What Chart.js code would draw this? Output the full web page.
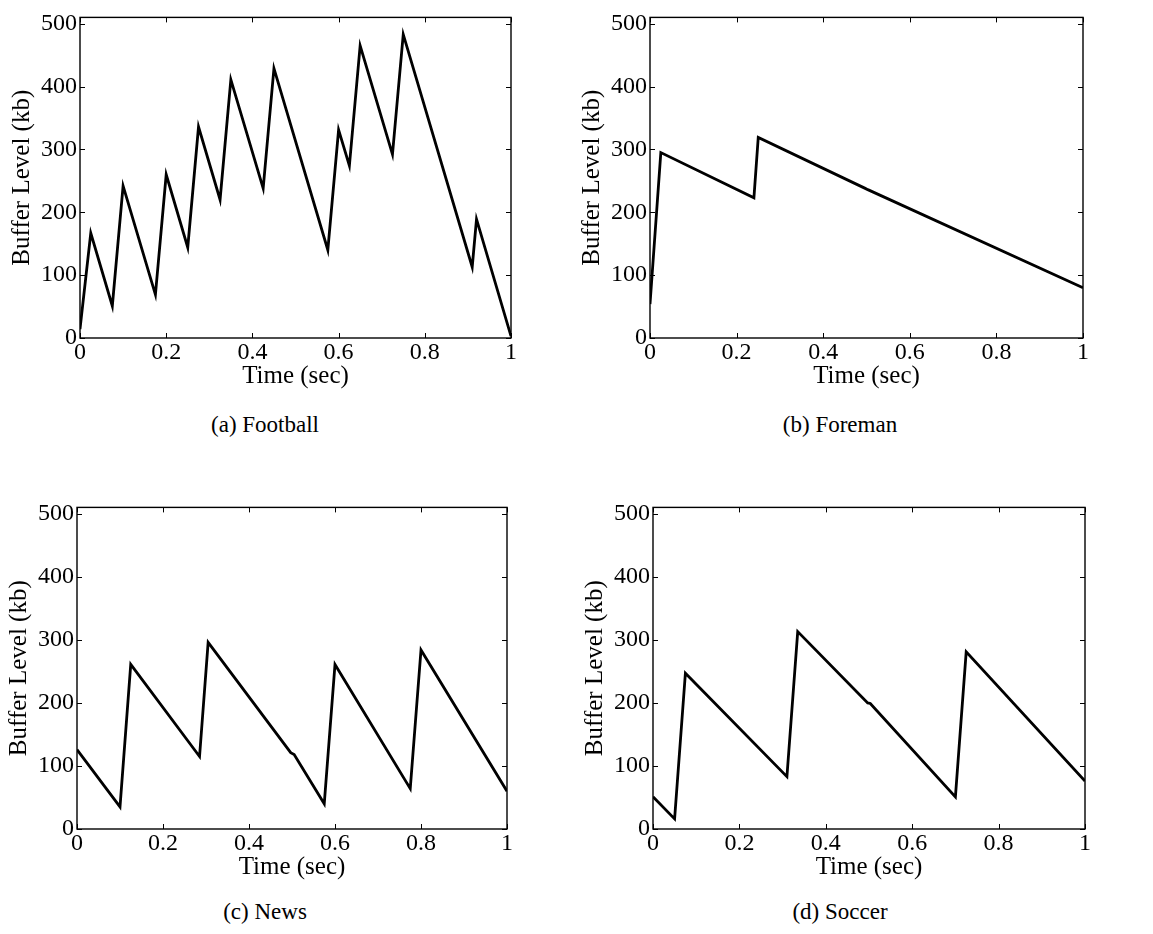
<!DOCTYPE html>
<html>
<head>
<meta charset="utf-8">
<title>Buffer Level</title>
<script src="https://cdn.jsdelivr.net/npm/chart.js@4/dist/chart.umd.min.js"></script>
<style>
    body { margin: 0; background: #fff; }
    #wrap { position: relative; width: 1153px; height: 934px; overflow: hidden; }
    canvas { position: absolute; }
    .caption {
        position: absolute;
        width: 300px;
        text-align: center;
        font: 23px "Liberation Serif", "Times New Roman", serif;
        line-height: 26px;
        color: #000;
    }
</style>
</head>
<body>
<div id="wrap">
    <canvas id="football"></canvas>
    <canvas id="foreman"></canvas>
    <canvas id="news"></canvas>
    <canvas id="soccer"></canvas>
    <div class="caption" style="left:115px; top:412px;">(a) Football</div>
    <div class="caption" style="left:690px; top:412px;">(b) Foreman</div>
    <div class="caption" style="left:115px; top:899px;">(c) News</div>
    <div class="caption" style="left:690px; top:899px;">(d) Soccer</div>
</div>

<script>
// Axis ticks (shared by all four panels)
const xTicks = [0, 0.2, 0.4, 0.6, 0.8, 1];
const xTickLabels = ['0', '0.2', '0.4', '0.6', '0.8', '1'];
const yTicks = [0, 100, 200, 300, 400, 500];
const yTickLabels = ['0', '100', '200', '300', '400', '500'];

// (a) Football: time (sec) / buffer level (kb)
const footballTime = [0, 0.025, 0.075, 0.1, 0.175, 0.2, 0.25, 0.275, 0.325, 0.35, 0.425, 0.45,
    0.575, 0.6, 0.625, 0.65, 0.725, 0.75, 0.91, 0.92, 1];
const footballLevel = [14, 167, 51, 242, 69, 260, 144, 336, 220, 411, 238, 429,
    140, 331, 274, 465, 292, 483, 113, 189, 3];

// (b) Foreman
const foremanTime = [0, 0.025, 0.24, 0.25, 0.497, 0.503, 1];
const foremanLevel = [54, 295, 223, 319, 238, 236, 80];

// (c) News
const newsTime = [0, 0.1, 0.125, 0.285, 0.305, 0.497, 0.505, 0.575, 0.6, 0.775, 0.8, 1];
const newsLevel = [126, 35, 261, 115, 296, 121, 118, 40, 261, 64, 284, 60];

// (d) Soccer
const soccerTime = [0, 0.05, 0.075, 0.31, 0.335, 0.497, 0.503, 0.7, 0.725, 1];
const soccerLevel = [51, 16, 247, 83, 313, 200, 199, 51, 281, 76];

const yMax = 510;

// Plot-area rectangles (page pixels) for each panel
const panels = [
    { id: 'football', time: footballTime, level: footballLevel, left: 80, top: 13, right: 511, bottom: 338 },
    { id: 'foreman', time: foremanTime, level: foremanLevel, left: 650, top: 13, right: 1083, bottom: 338 },
    { id: 'news', time: newsTime, level: newsLevel, left: 77, top: 503, right: 507, bottom: 829 },
    { id: 'soccer', time: soccerTime, level: soccerLevel, left: 653, top: 503, right: 1085, bottom: 829 }
];

const AXIS_W = 80;   // room left of plot for y labels + title
const AXIS_H = 62;   // room below plot for x labels + title
const PAD_TOP = 13;
const PAD_RIGHT = 20;

const serif = "'Liberation Serif', 'Times New Roman', serif";
const tickFont = { family: serif, size: 24 };
const titleFont = { family: serif, size: 25 };

// Draws the box round the plot and MATLAB-style inward ticks on all four sides
const frameTicks = {
    id: 'frameTicks',
    afterDraw(chart) {
        const { ctx, chartArea: a, scales: { x, y } } = chart;
        const len = 5;
        ctx.save();
        ctx.strokeStyle = '#000';
        ctx.lineWidth = 1.4;
        ctx.strokeRect(a.left, a.top, a.right - a.left, a.bottom - a.top);
        ctx.lineWidth = 1;
        ctx.beginPath();
        x.ticks.forEach(t => {
            const px = Math.round(x.getPixelForValue(t.value)) + 0.5;
            ctx.moveTo(px, a.bottom); ctx.lineTo(px, a.bottom - len);
            ctx.moveTo(px, a.top); ctx.lineTo(px, a.top + len);
        });
        y.ticks.forEach(t => {
            const py = Math.round(y.getPixelForValue(t.value)) + 0.5;
            ctx.moveTo(a.left, py); ctx.lineTo(a.left + len, py);
            ctx.moveTo(a.right, py); ctx.lineTo(a.right - len, py);
        });
        ctx.stroke();
        ctx.restore();
    }
};

function drawPanel(p) {
    const canvas = document.getElementById(p.id);
    const w = (p.right - p.left) + AXIS_W + PAD_RIGHT;
    const h = (p.bottom - p.top) + PAD_TOP + AXIS_H;
    canvas.width = w;
    canvas.height = h;
    canvas.style.left = (p.left - AXIS_W) + 'px';
    canvas.style.top = (p.top - PAD_TOP) + 'px';

    const points = p.time.map((t, i) => ({ x: t, y: p.level[i] }));

    new Chart(canvas.getContext('2d'), {
        type: 'line',
        data: {
            datasets: [{
                data: points,
                borderColor: '#000',
                borderWidth: 2.8,
                pointRadius: 0,
                tension: 0,
                fill: false
            }]
        },
        options: {
            responsive: false,
            animation: false,
            events: [],
            layout: { padding: { top: PAD_TOP, right: PAD_RIGHT, left: 0, bottom: 0 } },
            plugins: {
                legend: { display: false },
                tooltip: { enabled: false }
            },
            scales: {
                x: {
                    type: 'linear',
                    min: 0,
                    max: 1,
                    afterBuildTicks: s => { s.ticks = xTicks.map(v => ({ value: v })); },
                    afterFit: s => { s.height = AXIS_H; },
                    grid: { display: false, drawTicks: false },
                    border: { display: false },
                    ticks: {
                        padding: 0,
                        maxRotation: 0,
                        autoSkip: false,
                        color: '#000',
                        font: tickFont,
                        callback: (v, i) => xTickLabels[i]
                    },
                    title: {
                        display: true,
                        text: 'Time (sec)',
                        color: '#000',
                        font: titleFont,
                        padding: { top: 0, bottom: 9 }
                    }
                },
                y: {
                    type: 'linear',
                    min: 0,
                    max: yMax,
                    afterBuildTicks: s => { s.ticks = yTicks.map(v => ({ value: v })); },
                    afterFit: s => { s.width = AXIS_W; },
                    grid: { display: false, drawTicks: false },
                    border: { display: false },
                    ticks: {
                        padding: 3,
                        color: '#000',
                        font: tickFont,
                        callback: (v, i) => yTickLabels[i]
                    },
                    title: {
                        display: true,
                        text: 'Buffer Level (kb)',
                        color: '#000',
                        font: titleFont,
                        padding: { top: 7, bottom: 0 }
                    }
                }
            }
        },
        plugins: [frameTicks]
    });
}

panels.forEach(drawPanel);
</script>
</body>
</html>
